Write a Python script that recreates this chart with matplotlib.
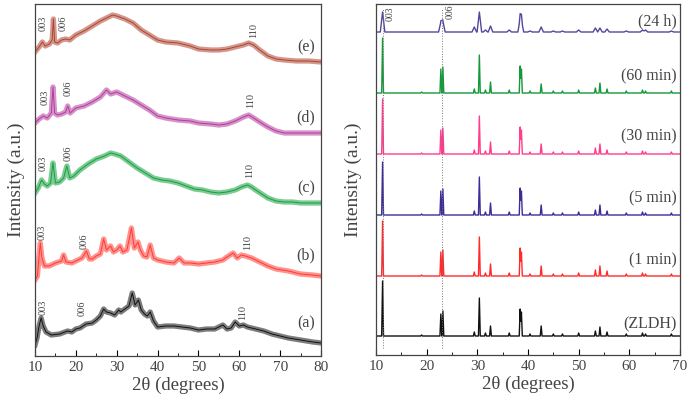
import numpy as np
import matplotlib
matplotlib.use("Agg")
import matplotlib.pyplot as plt
from matplotlib.ticker import MultipleLocator

plt.rcParams['font.family'] = ['Liberation Serif', 'DejaVu Serif']

# ---- left panel: broad patterns (a)-(e), intensities in offset a.u.
a_x = [10, 10.5, 11, 11.5, 12, 12.7, 14, 16, 18, 19, 20, 21, 22.5, 24, 25, 26, 26.8, 27.5, 28.5,
       29.5, 30.5, 31, 32, 33, 33.8, 34.5, 35.3, 36, 36.8, 37.5, 38.2, 39, 40, 42, 44, 46, 48, 50,
       52, 54, 56, 57, 58, 59, 60, 61, 62, 64, 66, 68, 70, 72, 75, 78, 80]
a_y = [11, 18, 30, 38, 30, 24, 21, 22, 25, 24, 27, 28, 32, 33, 36, 40, 47, 44, 43,
       41, 46, 44, 47, 50, 63, 51, 56, 46, 42, 40, 44, 35, 29, 30, 30, 29, 28, 26,
       27, 27, 31, 27, 28, 34, 30, 31, 29, 27, 25, 22, 20, 18, 16, 14, 13]

b_x = [10, 10.6, 11, 11.3, 11.7, 12.3, 13.5, 15, 16.5, 17, 17.6, 19, 20, 21.5, 22.6, 23.3, 24, 25,
       26, 26.8, 27.5, 28.5, 29.2, 30, 30.8, 31.5, 32.5, 33.6, 34.3, 35.2, 35.8, 36.6, 37.4, 38.2,
       39, 40, 42, 44, 45.3, 46.5, 48, 50, 52, 54, 56, 57, 58.5, 59.5, 60.5, 61.5, 63, 65, 67, 69,
       72, 75, 78, 80]
b_y = [76, 80, 100, 113, 98, 90, 90, 93, 95, 101, 94, 93, 95, 98, 105, 97, 97, 100,
       102, 117, 106, 110, 104, 106, 110, 104, 106, 128, 108, 114, 106, 100, 99, 111,
       98, 96, 94, 93, 98, 93, 93, 92, 93, 94, 96, 99, 103, 98, 101, 100, 98, 94, 90, 87,
       85, 82, 81, 80]

c_x = [10, 10.8, 11.6, 12.3, 13, 13.8, 14.4, 15, 16, 17, 17.8, 18.5, 19.5, 21, 23, 25, 27, 28.5,
       29.5, 31, 33, 35, 37, 39, 41, 43, 45, 47, 49, 51, 53, 55, 57, 59, 60.5, 62, 63, 64, 65.5,
       67, 69, 71, 73, 75, 78, 80]
c_y = [163, 168, 176, 172, 170, 173, 193, 173, 174, 178, 190, 178, 180, 186, 192, 197, 200, 203,
       202, 200, 194, 188, 183, 178, 176, 175, 173, 170, 167, 166, 164, 163, 164, 166, 169, 171,
       169, 166, 162, 158, 155, 154, 154, 153, 153, 153]

d_x = [10, 11, 12, 13, 14, 14.4, 14.8, 15.5, 16.5, 17.5, 18, 18.6, 20, 22, 24, 26, 27.5, 28.5, 30,
       32, 34, 36, 38, 40, 42, 45, 48, 50, 53, 55, 57, 59, 61, 62.3, 63.5, 65, 67, 69, 71, 74, 77, 80]
d_y = [233, 237, 240, 238, 243, 269, 243, 241, 242, 244, 250, 243, 248, 250, 254, 259, 266, 262,
       264, 260, 256, 251, 246, 240, 238, 236, 235, 233, 232, 231, 232, 235, 239, 241, 238, 234,
       229, 225, 223, 223, 223, 223]

e_x = [10, 11, 11.8, 12.5, 13.5, 14.2, 14.5, 14.8, 15.5, 16.5, 17.5, 18.5, 20, 22, 24, 26, 28, 29,
       30, 32, 34, 36, 38, 40, 42, 45, 48, 50, 53, 55, 57, 59, 61, 62.3, 63.5, 65, 67, 69, 71, 74,
       77, 80]
e_y = [304, 309, 314, 310, 312, 316, 337, 314, 313, 316, 317, 316, 321, 325, 330, 335, 339, 341,
       340, 337, 333, 326, 321, 316, 314, 313, 310, 307, 306, 306, 307, 309, 311, 313, 311, 306,
       300, 297, 296, 295, 295, 294]

left_names = ['(a)', '(b)', '(c)', '(d)', '(e)']
left_label_y = [33, 101, 168, 239, 309]
left_colors = ['#111111', '#ff3a33', '#13a03c', '#b33a9e', '#b0432f']
# hkl labels: (2theta, y) for 003, 006, 110 of each curve
left_hkl = [[(12.0, 49), (21.5, 48), (60.7, 44)],
            [(11.8, 124), (22.0, 115), (62.0, 113)],
            [(12.0, 193), (18.0, 203), (62.6, 186)],
            [(12.4, 259), (18.0, 268), (62.8, 256)],
            [(12.0, 333), (16.9, 333), (63.4, 326)]]

# ---- right panel: sharp LDH reflections
peak_pos = [11.3, 19.0, 22.8, 23.2, 29.4, 30.4, 31.6, 32.6, 36.3, 38.45, 38.7, 40.4, 42.6, 45.0,
            46.8, 50.0, 53.3, 54.2, 55.6, 59.4, 62.6, 63.2, 68.3]
h_zldh = [55, 1, 22, 25, 4, 38, 3, 10, 3, 27, 24, 2, 10, 2, 2, 3, 5, 9, 4, 2, 3, 2, 2]
h_1min = [55, 1, 24, 26, 4, 39, 3, 12, 3, 28, 24, 2, 10, 2, 2, 3, 6, 10, 5, 2, 3, 2, 2]
h_5min = [53, 1, 24, 26, 4, 38, 3, 12, 3, 27, 24, 2, 10, 2, 2, 3, 5, 10, 4, 2, 3, 2, 2]
h_30min = [55, 1, 24, 26, 4, 38, 3, 12, 3, 27, 24, 2, 10, 2, 2, 3, 6, 10, 4, 2, 3, 2, 2]
h_60min = [55, 1, 24, 26, 4, 38, 3, 11, 3, 27, 24, 2, 9, 2, 2, 3, 5, 10, 4, 2, 3, 2, 2]
h_24h = [20, 0, 10, 11, 5, 20, 2, 6, 2, 13, 12, 1, 5, 1, 1, 2, 4, 4, 3, 1, 2, 2, 1]

right_names = ['(ZLDH)', '(1 min)', '(5 min)', '(30 min)', '(60 min)', '(24 h)']
right_heights = [h_zldh, h_1min, h_5min, h_30min, h_60min, h_24h]
right_base = [19, 79, 140, 201, 262, 323]
right_colors = ['#111111', '#ff2b2b', '#3b2c98', '#ff3d8c', '#14993a', '#55469c']
right_label_y = [31, 95, 157, 219, 279, 334]


def peak_trace(pos, heights, base, w):
    xs = sorted(set([10, 70] + [p + d for p in pos for d in (-w, 0, w)]))
    xs = np.array([x for x in xs if 10 <= x <= 70])
    ys = np.full(len(xs), float(base))
    for p, h in zip(pos, heights):
        ys += np.interp(xs, [p - w, p, p + w], [0, h, 0])
    return xs, ys


fig = plt.figure(figsize=(6.88, 4.04), dpi=100)
ax1 = fig.add_axes([35 / 688, 48 / 404, 286 / 688, 352 / 404])
ax2 = fig.add_axes([376 / 688, 49 / 404, 304 / 688, 351 / 404])

txt = '#444444'
for xs, ys, c, name, ly, hkl in zip([a_x, b_x, c_x, d_x, e_x], [a_y, b_y, c_y, d_y, e_y],
                                    left_colors, left_names, left_label_y, left_hkl):
    # thick faint band stands in for the counting noise
    ax1.plot(xs, ys, color=c, lw=3.8, alpha=0.55)
    ax1.plot(xs, ys, color=c, lw=0.7)
    ax1.text(78.5, ly, name, ha='right', va='center', fontsize=11.5, color=txt)
    for (hx, hy), lab in zip(hkl, ['003', '006', '110']):
        ax1.text(hx, hy, lab, rotation=90, ha='center', va='center', fontsize=7.5, color=txt)

ax1.set_xlim(10, 80)
ax1.set_ylim(0, 352)
ax1.xaxis.set_major_locator(MultipleLocator(10))
ax1.xaxis.set_minor_locator(MultipleLocator(5))
ax1.set_yticks([])
ax1.tick_params(axis='x', which='both', direction='in', labelsize=11, labelcolor=txt)
ax1.tick_params(axis='x', which='major', length=4)
ax1.tick_params(axis='x', which='minor', length=2.5)
ax1.set_xlabel('2θ (degrees)', fontsize=13.5, color=txt, labelpad=2)
ax1.set_ylabel('Intensity (a.u.)', fontsize=14, color=txt, labelpad=7)

for hs, b, c, name, ly in zip(right_heights, right_base, right_colors, right_names, right_label_y):
    w = 0.45 if name == '(24 h)' else 0.18
    xs, ys = peak_trace(peak_pos, hs, b, w)
    ax2.plot(xs, ys, color=c, lw=1.0)
    ax2.text(69.4, ly, name, ha='right', va='center', fontsize=11.5, color=txt)

for vx in (11.3, 23.0):
    ax2.axvline(vx, ymin=0.02, ymax=0.99, color='#777777', lw=0.7, ls=':')
ax2.text(12.8, 341, '003', rotation=90, ha='center', va='center', fontsize=7, color=txt)
ax2.text(24.6, 343, '006', rotation=90, ha='center', va='center', fontsize=7, color=txt)

ax2.set_xlim(10, 70)
ax2.set_ylim(0, 351)
ax2.xaxis.set_major_locator(MultipleLocator(10))
ax2.xaxis.set_minor_locator(MultipleLocator(5))
ax2.set_yticks([])
ax2.tick_params(axis='x', which='both', direction='in', labelsize=11, labelcolor=txt)
ax2.tick_params(axis='x', which='major', length=4)
ax2.tick_params(axis='x', which='minor', length=2.5)
ax2.set_xlabel('2θ (degrees)', fontsize=13.5, color=txt, labelpad=2)
ax2.set_ylabel('Intensity (a.u.)', fontsize=14, color=txt, labelpad=10)

for ax in (ax1, ax2):
    for s in ax.spines.values():
        s.set_color('#444444')
        s.set_linewidth(0.9)

fig.savefig('out.png', dpi=100)
